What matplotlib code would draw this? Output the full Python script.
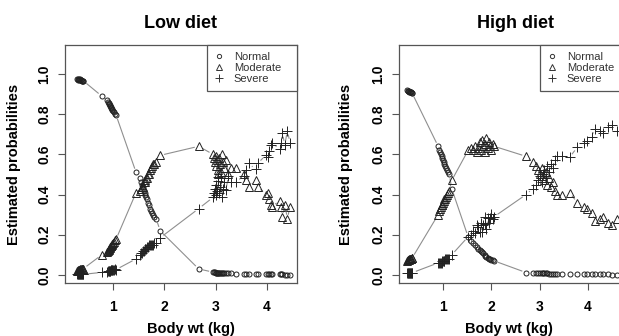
import numpy as np
import matplotlib
matplotlib.use('Agg')
import matplotlib.pyplot as plt
from matplotlib.collections import LineCollection
from matplotlib.lines import Line2D

plt.rcParams['font.family'] = ['Liberation Sans', 'DejaVu Sans']

# Low diet: body weight and estimated probabilities per observation
low_wt = [0.30, 0.31, 0.32, 0.33, 0.34, 0.35, 0.36, 0.37, 0.38, 0.39, 0.40, 0.41, 0.42,
          0.78,
          0.88, 0.90, 0.92, 0.93, 0.94, 0.95, 0.96, 0.97, 0.98, 0.99, 1.00, 1.02, 1.04, 1.06,
          1.45,
          1.52, 1.55, 1.57, 1.59, 1.60, 1.62, 1.63, 1.65, 1.66, 1.68, 1.70, 1.72, 1.74, 1.76, 1.78, 1.80, 1.84,
          1.92, 2.67,
          2.95, 2.97, 2.98, 3.00, 3.01, 3.02, 3.04, 3.05, 3.06, 3.08, 3.10, 3.12, 3.14, 3.16, 3.20, 3.25, 3.30,
          3.40, 3.55, 3.60, 3.65, 3.78, 3.82, 3.98, 4.02, 4.05, 4.08, 4.10, 4.25, 4.28, 4.30, 4.35, 4.40, 4.45]
low_normal = [0.975, 0.976, 0.972, 0.974, 0.970, 0.973, 0.968, 0.971, 0.969, 0.966, 0.967, 0.965, 0.966,
              0.89,
              0.868, 0.862, 0.855, 0.85, 0.846, 0.84, 0.835, 0.83, 0.826, 0.82, 0.815, 0.81, 0.80, 0.795,
              0.51,
              0.48, 0.46, 0.45, 0.44, 0.42, 0.41, 0.40, 0.39, 0.38, 0.36, 0.35, 0.33, 0.32, 0.31, 0.30, 0.29, 0.28,
              0.22, 0.03,
              0.014, 0.013, 0.013, 0.012, 0.012, 0.012, 0.011, 0.011, 0.011, 0.011, 0.010, 0.010, 0.010, 0.009, 0.009, 0.008, 0.008,
              0.007, 0.006, 0.006, 0.005, 0.005, 0.005, 0.004, 0.004, 0.004, 0.003, 0.003, 0.003, 0.003, 0.003, 0.002, 0.002, 0.002]
low_moderate = [0.022, 0.020, 0.025, 0.023, 0.027, 0.024, 0.029, 0.026, 0.028, 0.031, 0.030, 0.032, 0.031,
                0.10,
                0.115, 0.12, 0.125, 0.13, 0.133, 0.138, 0.142, 0.146, 0.15, 0.155, 0.16, 0.165, 0.172, 0.178,
                0.41,
                0.42, 0.43, 0.44, 0.44, 0.46, 0.46, 0.47, 0.48, 0.48, 0.50, 0.50, 0.52, 0.53, 0.54, 0.55, 0.55, 0.56,
                0.595, 0.64,
                0.60, 0.58, 0.56, 0.59, 0.54, 0.57, 0.52, 0.50, 0.58, 0.55, 0.51, 0.60, 0.56, 0.53, 0.57, 0.50, 0.53,
                0.53, 0.50, 0.47, 0.44, 0.47, 0.44, 0.40, 0.41, 0.38, 0.35, 0.34, 0.37, 0.34, 0.29, 0.35, 0.28, 0.34]
low_severe = [0.003, 0.004, 0.003, 0.003, 0.003, 0.003, 0.003, 0.003, 0.003, 0.003, 0.003, 0.003, 0.003,
              0.013,
              0.017, 0.018, 0.020, 0.020, 0.021, 0.022, 0.023, 0.024, 0.024, 0.025, 0.025, 0.025, 0.028, 0.027,
              0.08,
              0.10, 0.11, 0.11, 0.12, 0.12, 0.13, 0.13, 0.13, 0.14, 0.14, 0.15, 0.15, 0.15, 0.15, 0.15, 0.16, 0.16,
              0.185, 0.33,
              0.386, 0.407, 0.427, 0.398, 0.448, 0.418, 0.469, 0.489, 0.409, 0.439, 0.480, 0.390, 0.430, 0.461, 0.421, 0.492, 0.462,
              0.463, 0.494, 0.524, 0.555, 0.525, 0.555, 0.596, 0.586, 0.616, 0.647, 0.657, 0.627, 0.657, 0.707, 0.648, 0.718, 0.658]

# High diet
high_wt = [0.26, 0.27, 0.28, 0.29, 0.30, 0.31, 0.32, 0.33, 0.34, 0.35, 0.36,
           0.90, 0.92, 0.94, 0.95, 0.97, 0.98, 1.00, 1.02, 1.03, 1.05, 1.07, 1.09, 1.11, 1.13,
           1.18,
           1.52, 1.58, 1.62, 1.66, 1.70, 1.73, 1.76, 1.78, 1.80, 1.83, 1.86, 1.88, 1.90, 1.93, 1.96, 1.98, 2.00, 2.03, 2.06,
           2.72,
           2.86, 2.92, 2.96, 3.00, 3.04, 3.08, 3.10, 3.14, 3.16, 3.20, 3.24, 3.28, 3.32, 3.36,
           3.47, 3.62, 3.78, 3.92, 3.98, 4.08, 4.15, 4.26, 4.31, 4.42, 4.50, 4.60]
high_normal = [0.918, 0.916, 0.915, 0.913, 0.912, 0.911, 0.910, 0.909, 0.908, 0.907, 0.905,
               0.64, 0.62, 0.61, 0.60, 0.59, 0.58, 0.57, 0.56, 0.55, 0.54, 0.53, 0.52, 0.51, 0.50,
               0.43,
               0.19, 0.17, 0.16, 0.15, 0.14, 0.13, 0.125, 0.12, 0.115, 0.11, 0.10, 0.095, 0.09, 0.085, 0.08, 0.078, 0.075, 0.072, 0.07,
               0.012,
               0.010, 0.010, 0.009, 0.009, 0.009, 0.008, 0.008, 0.008, 0.008, 0.007, 0.007, 0.007, 0.007, 0.006,
               0.006, 0.005, 0.005, 0.004, 0.004, 0.004, 0.003, 0.003, 0.003, 0.003, 0.002, 0.002]
high_moderate = [0.071, 0.073, 0.074, 0.076, 0.077, 0.078, 0.079, 0.080, 0.081, 0.082, 0.084,
                 0.30, 0.32, 0.33, 0.34, 0.35, 0.35, 0.36, 0.37, 0.38, 0.38, 0.39, 0.40, 0.41, 0.42,
                 0.47,
                 0.62, 0.63, 0.62, 0.64, 0.61, 0.63, 0.66, 0.62, 0.67, 0.64, 0.61, 0.65, 0.68, 0.63, 0.66, 0.64, 0.62, 0.65, 0.64,
                 0.59,
                 0.56, 0.54, 0.52, 0.50, 0.53, 0.49, 0.47, 0.51, 0.45, 0.48, 0.44, 0.46, 0.42, 0.40,
                 0.40, 0.41, 0.36, 0.34, 0.33, 0.31, 0.27, 0.28, 0.29, 0.26, 0.25, 0.28]
high_severe = [0.011, 0.011, 0.011, 0.011, 0.011, 0.011, 0.011, 0.011, 0.011, 0.011, 0.011,
               0.06, 0.06, 0.06, 0.06, 0.06, 0.07, 0.07, 0.07, 0.07, 0.08, 0.08, 0.08, 0.08, 0.08,
               0.10,
               0.19, 0.20, 0.22, 0.21, 0.25, 0.24, 0.215, 0.26, 0.215, 0.25, 0.29, 0.255, 0.23, 0.285, 0.26, 0.282, 0.305, 0.278, 0.29,
               0.40,
               0.43, 0.45, 0.471, 0.491, 0.461, 0.502, 0.522, 0.482, 0.542, 0.513, 0.553, 0.533, 0.573, 0.594,
               0.594, 0.585, 0.635, 0.656, 0.666, 0.686, 0.727, 0.717, 0.707, 0.737, 0.748, 0.718]

categories = ['Normal', 'Moderate', 'Severe']
markers = ['o', '^', '+']
msizes = [3.6, 5.8, 6.5]


def lines_b(ax, x, y, gap=4.0):
    # R type="b": segments between points, stopped short of each point
    pts = ax.transData.transform(np.column_stack([x, y]))
    segs = []
    for p, q in zip(pts[:-1], pts[1:]):
        d = q - p
        L = np.hypot(d[0], d[1])
        if L > 2 * gap:
            u = d / L
            segs.append(ax.transData.inverted().transform(np.array([p + u * gap, q - u * gap])))
    ax.add_collection(LineCollection(segs, colors='#8f8f8f', linewidths=0.8))


fig = plt.figure(figsize=(6.19, 3.36), dpi=100)
W, H = 619, 336

panels = [
    ('Low diet', low_wt, [low_normal, low_moderate, low_severe],
     (65, 297), (0.064, 4.587), 0.498, 0.543, -0.19, 207),
    ('High diet', high_wt, [high_normal, high_moderate, high_severe],
     (399, 623), (0.089, 4.727), 0.518, 0.493, -0.207, 540),
]

for title, wt, probs, (px0, px1), xl, tx, xlx, ylx, legx in panels:
    ax = fig.add_axes([px0 / W, 1 - 283 / H, (px1 - px0) / W, (283 - 45) / H])
    ax.set_xlim(*xl)
    ax.set_ylim(-0.04, 1.144)
    for p in probs:
        lines_b(ax, wt, p)
    for p, m, ms in zip(probs, markers, msizes):
        ax.plot(wt, p, ls='none', marker=m, ms=ms, mfc='none', mec='#222222', mew=0.7)
    for s in ax.spines.values():
        s.set_color('#555555')
        s.set_linewidth(0.9)
    ax.set_xticks([1, 2, 3, 4])
    ax.set_yticks([0.0, 0.2, 0.4, 0.6, 0.8, 1.0])
    ax.set_xticklabels(['1', '2', '3', '4'], fontweight='bold', fontsize=10)
    ax.set_yticklabels(['0.0', '0.2', '0.4', '0.6', '0.8', '1.0'], fontweight='bold',
                       fontsize=10, rotation=90, va='center')
    ax.tick_params(length=5, width=0.8, color='#555555', pad=5)
    ax.tick_params(axis='x', pad=7)
    ax.set_title(title, fontweight='bold', fontsize=13, pad=12, x=tx)
    ax.set_xlabel('Body wt (kg)', fontweight='bold', fontsize=10.5)
    ax.xaxis.set_label_coords(xlx, -0.165)
    ax.set_ylabel('Estimated probabilities', fontweight='bold', fontsize=10.5)
    ax.yaxis.set_label_coords(ylx, 0.5)

    handles = [Line2D([], [], ls='none', marker=m, ms=ms * 0.85, mfc='none', mec='#333333', mew=0.7)
               for m, ms in zip(markers, msizes)]
    lx0 = (legx - px0) / (px1 - px0)
    leg = ax.legend(handles, categories, loc='upper left',
                    bbox_to_anchor=(lx0, 0.0, 90 / (px1 - px0), 1.0), mode='expand',
                    borderaxespad=0, fontsize=8, fancybox=False, framealpha=1,
                    edgecolor='#555555', handlelength=1.0, handletextpad=0.8,
                    labelspacing=0.12, borderpad=0.6)
    leg.get_frame().set_linewidth(0.9)
    for t in leg.get_texts():
        t.set_color('#333333')

fig.savefig('out.png', dpi=100)
